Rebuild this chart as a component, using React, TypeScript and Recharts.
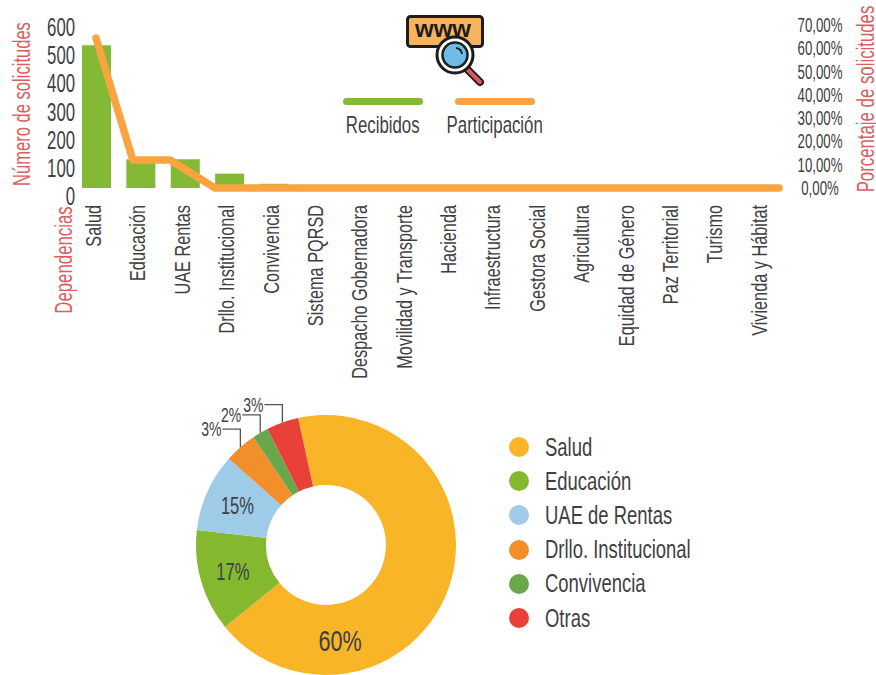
import React from 'react';
import { ComposedChart, Bar, Line, XAxis, YAxis, Legend, PieChart, Pie, Cell } from 'recharts';

const categories = ['Salud','Educación','UAE Rentas','Drllo. Institucional','Convivencia','Sistema PQRSD','Despacho Gobernadora','Movilidad y Transporte','Hacienda','Infraestructura','Gestora Social','Agricultura','Equidad de Género','Paz Territorial','Turismo','Vivienda y Hábitat'];
const recibidos = [507,102,102,51,15,0,0,0,0,0,0,0,0,0,0,0];
const participacion = [64.4,12,12,0,0,0,0,0,0,0,0,0,0,0,0,0];
const participacionPos = [0,0.83,1.67,2.68,3.74,4.8,5.85,6.91,7.97,9.03,10.09,11.14,12.2,13.26,14.32,15.38];
const leftTicks = [0,100,200,300,400,500,600];
const rightTicks = [0,10,20,30,40,50,60,70];

const pieNames = ['Salud','Educación','UAE de Rentas','Drllo. Institucional','Convivencia','Otras'];
const pieValues = [67.6,12.7,9.7,4,2,4];
const pieLabels = ['60%','17%','15%','3%','2%','3%'];
const pieColors = ['#F7B527','#84B82F','#9DCBE8','#F28F2B','#69A84A','#E8413A'];

const rows = categories.map((name, i) => ({ name, recibidos: recibidos[i], participacion: participacion[i], pos: participacionPos[i] }));
const pieRows = pieNames.map((name, i) => ({ name, value: pieValues[i] }));

const FONT = '"Liberation Sans", sans-serif';
const INK = '#3f4044';
const RED = '#D9605F';

const Narrow = ({ x, y, rotate = 0, s = 0.7, size, anchor = 'middle', fill = INK, children }: any) => (
  <text transform={`translate(${x},${y}) rotate(${rotate}) scale(${s},1)`} dy="0.36em" textAnchor={anchor} fontFamily={FONT} fontSize={size} fill={fill}>{children}</text>
);

const LeftTick = ({ y, payload }: any) => (
  <Narrow x={75} y={y + 8} anchor="end" size={25} s={0.67}>{payload.value}</Narrow>
);
const RightTick = ({ y, payload }: any) => (
  <Narrow x={820} y={y} size={19.5} s={0.68}>{payload.value.toFixed(2).replace('.', ',')}%</Narrow>
);
const CatTick = ({ x, y, payload }: any) => (
  <Narrow x={x - 3} y={y + 17} rotate={-90} anchor="end" size={22} s={0.74}>{payload.value}</Narrow>
);

const TopLegend = ({ payload }: any) => (
  <div style={{ display: 'flex', gap: 32, fontFamily: FONT }}>
    {(payload || []).map((p: any) => (
      <div key={p.value} style={{ width: 80, display: 'flex', flexDirection: 'column', alignItems: 'center' }}>
        <div style={{ width: 80, height: 7, borderRadius: 4, background: p.color }} />
        <div style={{ marginTop: 6, fontSize: 24, lineHeight: '28px', color: INK, whiteSpace: 'nowrap', transform: 'scaleX(0.7)' }}>{p.value}</div>
      </div>
    ))}
  </div>
);

const PieLegend = ({ payload }: any) => (
  <div style={{ fontFamily: FONT }}>
    {(payload || []).map((p: any) => (
      <div key={p.value} style={{ display: 'flex', alignItems: 'center', height: 34.2 }}>
        <div style={{ width: 20, height: 20, borderRadius: 10, background: p.color, marginRight: 16 }} />
        <div style={{ fontSize: 26, color: INK, whiteSpace: 'nowrap', transform: 'scaleX(0.71)', transformOrigin: 'left center' }}>{p.value}</div>
      </div>
    ))}
  </div>
);

const PieLabel = ({ cx, cy, midAngle, outerRadius, index }: any) => {
  const rad = Math.PI / 180;
  if (index >= 3) {
    const ex = cx + outerRadius * Math.cos(midAngle * rad);
    const ey = cy - outerRadius * Math.sin(midAngle * rad);
    return (
      <g>
        <path d={`M${ex},${ey} V${ey - 18} H${ex - 18}`} fill="none" stroke="#555" strokeWidth={1.3} />
        <Narrow x={ex - 19} y={ey - 18} anchor="end" size={20} s={0.7}>{pieLabels[index]}</Narrow>
      </g>
    );
  }
  const a = index === 0 ? -81.5 : midAngle;
  const r = index === 0 ? 96 : 97;
  return (
    <Narrow x={cx + r * Math.cos(a * rad)} y={cy - r * Math.sin(a * rad)} size={index === 0 ? 30 : 23} s={0.72}>{pieLabels[index]}</Narrow>
  );
};

const Icon = () => (
  <svg width={90} height={80} style={{ position: 'absolute', left: 400, top: 10 }} viewBox="0 0 90 80">
    <rect x={7.5} y={6.5} width={75} height={30} rx={3} fill="#F5B25F" stroke="#1d1d1d" strokeWidth={3} />
    <text x={43} y={27} textAnchor="middle" fontFamily="Liberation Sans, sans-serif" fontWeight={700} fontSize={24} fill="#1d1d1d">www</text>
    <line x1={67} y1={59} x2={80} y2={72} stroke="#1d1d1d" strokeWidth={8} strokeLinecap="round" />
    <line x1={68} y1={60} x2={80} y2={72} stroke="#E0565B" strokeWidth={4} strokeLinecap="round" />
    <circle cx={55} cy={45} r={18} fill="#fff" stroke="#1d1d1d" strokeWidth={3} />
    <circle cx={55} cy={45} r={12.5} fill="#6DBDE8" stroke="#1d1d1d" strokeWidth={2.5} />
    <path d="M56,38 a7,7 0 0 1 6,6" fill="none" stroke="#1d1d1d" strokeWidth={1.8} />
  </svg>
);

export default function App() {
  return (
    <div style={{ position: 'absolute', left: 0, top: 0, width: 876, height: 675, overflow: 'hidden', background: '#fff' }}>
      <ComposedChart width={876} height={385} data={rows} margin={{ top: 19, right: 0, bottom: 0, left: 0 }} style={{ position: 'absolute', left: 0, top: 0 }}>
        <XAxis xAxisId="cat" dataKey="name" type="category" interval={0} axisLine={false} tickLine={false} tickSize={0} tickMargin={0} height={197} tick={<CatTick />} />
        <XAxis xAxisId="pos" dataKey="pos" type="number" hide domain={[0, 15.38]} padding={{ left: 22, right: 5 }} />
        <YAxis yAxisId="left" width={74} domain={[0, 600]} ticks={leftTicks} interval={0} axisLine={false} tickLine={false} tickSize={0} tick={<LeftTick />} />
        <YAxis yAxisId="right" orientation="right" width={92} domain={[0, 72.57]} ticks={rightTicks} interval={0} axisLine={false} tickLine={false} tickSize={0} tick={<RightTick />} />
        <Bar xAxisId="cat" yAxisId="left" dataKey="recibidos" name="Recibidos" fill="#84B935" barSize={29} isAnimationActive={false} />
        <Line xAxisId="pos" yAxisId="right" dataKey="participacion" name="Participación" stroke="#F9A440" strokeWidth={7.5} strokeLinecap="round" strokeLinejoin="round" dot={false} activeDot={false} type="linear" isAnimationActive={false} />
        <Legend layout="horizontal" verticalAlign="middle" align="center" itemSorter={null} content={<TopLegend />} wrapperStyle={{ position: 'absolute', left: 343, top: 98, width: 200, height: 44 }} />
        <Narrow x={21} y={104} rotate={-90} size={24} s={0.69} fill={RED}>Número de solicitudes</Narrow>
        <Narrow x={865} y={99} rotate={-90} size={24} s={0.7} fill={RED}>Porcentaje de solicitudes</Narrow>
        <Narrow x={63} y={260} rotate={-90} size={24} s={0.7} fill={RED}>Dependencias</Narrow>
      </ComposedChart>
      <Icon />
      <PieChart width={876} height={290} style={{ position: 'absolute', left: 0, top: 385 }} margin={{ top: 0, right: 0, bottom: 0, left: 0 }}>
        <Pie data={pieRows} dataKey="value" nameKey="name" cx={326} cy={160} innerRadius={60} outerRadius={130} startAngle={102.4} endAngle={-257.6} stroke="none" label={<PieLabel />} labelLine={false} isAnimationActive={false}>
          {pieRows.map((r, i) => <Cell key={r.name} fill={pieColors[i]} />)}
        </Pie>
        <Legend layout="horizontal" verticalAlign="middle" align="center" itemSorter={null} content={<PieLegend />} wrapperStyle={{ position: 'absolute', left: 509, top: 45, width: 260, height: 206 }} />
      </PieChart>
    </div>
  );
}
